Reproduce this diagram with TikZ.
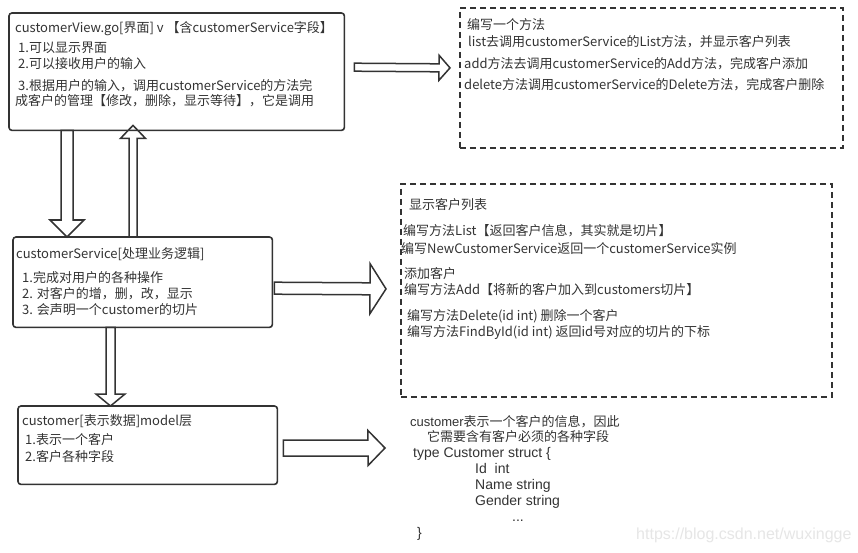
\documentclass[tikz,border=0pt]{standalone}
\usepackage{fontspec}
\setmainfont{Noto Sans CJK SC}
\newfontfamily\latinfont{Liberation Sans}
\usetikzlibrary{calc}
\definecolor{ink}{HTML}{333333}
\definecolor{wm}{HTML}{E6E6E6}
\tikzset{
  boxgeo/.style={inner sep=0pt, anchor=north west},
  boxline/.style={draw=ink, line width=1.6pt, rounded corners=3pt},
  dbox/.style={draw=ink, line width=1.8pt, dash pattern=on 6pt off 4pt, inner sep=0pt, anchor=north west},
  barrow/.style={draw=ink, line width=1.5pt, fill=white, line join=miter},
  txt/.style={anchor=base west, inner sep=0pt, text=ink, font=\fontsize{13}{15}\selectfont},
  code/.style={anchor=base west, inner sep=0pt, text=ink, font=\latinfont\fontsize{14}{16}\selectfont},
}
\newcommand\blockarrow[5]{%
  \coordinate (bah) at ($(#2)!#5!(#1)$);
  \draw[barrow] ($(#1)!#3!90:(#2)$) -- ($(bah)!#3!90:(#2)$) -- ($(bah)!#4!90:(#2)$) -- (#2)
    -- ($(bah)!#4!-90:(#2)$) -- ($(bah)!#3!-90:(#2)$) -- ($(#1)!#3!-90:(#2)$) -- cycle;
}
\begin{document}
\begin{tikzpicture}[x=1pt,y=-1pt]
\useasboundingbox (0,0) rectangle (858,553);
\fill[white] (0,0) rectangle (858,553);

% boxes (geometry; solid outlines drawn after the arrows)
\path (9,13) node[boxgeo, minimum width=335pt, minimum height=117pt] (b1) {};
\path (459,7) node[dbox, minimum width=383pt, minimum height=140pt] (d1) {};
\path (13,237) node[boxgeo, minimum width=259pt, minimum height=90pt] (b2) {};
\path (400,183) node[dbox, minimum width=431pt, minimum height=213pt] (d2) {};
\path (18,406) node[boxgeo, minimum width=259pt, minimum height=78pt] (b3) {};

% connector end points
\coordinate (a1s) at ($(b1.east)+(10,-4.5)$);
\coordinate (a1e) at ($(d1.west)+(-9,-10)$);
\coordinate (a2s) at ($(b1.south west)+(58,0)$);
\coordinate (a2e) at ($(b2.north west)+(54,0)$);
\coordinate (a3s) at ($(b2.north west)+(120,0)$);
\coordinate (a3e) at ($(b1.south west)+(124,-5)$);
\coordinate (a4s) at ($(b2.east)+(2,6)$);
\coordinate (a4e) at ($(d2.west)+(-14,-1.5)$);
\coordinate (a5s) at ($(b2.south west)+(97.5,0)$);
\coordinate (a5e) at ($(b3.north west)+(92.5,0)$);
\coordinate (a6s) at ($(b3.east)+(6,3)$);
\coordinate (a6e) at (385,448);

% block arrows
\blockarrow{a1s}{a1e}{4pt}{12.5pt}{11pt}
\blockarrow{a2s}{a2e}{6pt}{17pt}{17pt}
\blockarrow{a3s}{a3e}{4pt}{12.5pt}{13pt}
\blockarrow{a4s}{a4e}{6pt}{25pt}{16pt}
\blockarrow{a5s}{a5e}{4.5pt}{14.5pt}{12pt}
\blockarrow{a6s}{a6e}{8pt}{17.5pt}{17pt}

% solid box outlines
\draw[boxline] (b1.north west) rectangle (b1.south east);
\draw[boxline] (b2.north west) rectangle (b2.south east);
\draw[boxline] (b3.north west) rectangle (b3.south east);

% box 1 text
\node[txt] (t1a) at (15,33) {customerView.go[界面] v 【含customerService字段】};
\node[txt] (t1b) at (18,53) {1.可以显示界面};
\node[txt] (t1c) at (18,69) {2.可以接收用户的输入};
\node[txt] (t1d) at (18,91) {3.根据用户的输入，调用customerService的方法完};
\node[txt] (t1e) at (15,106) {成客户的管理【修改，删除，显示等待】，它是调用};

% dashed box 1 text
\node[txt] (u1a) at (467,30) {编写一个方法};
\node[txt] (u1b) at (468,47) {list去调用customerService的List方法，并显示客户列表};
\node[txt] (u1c) at (464,69) {add方法去调用customerService的Add方法，完成客户添加};
\node[txt] (u1d) at (464,90) {delete方法调用customerService的Delete方法，完成客户删除};

% box 2 text
\node[txt] (t2a) at (16,258) {customerService[处理业务逻辑]};
\node[txt] (t2b) at (22,282) {1.完成对用户的各种操作};
\node[txt] (t2c) at (22,298) {2. 对客户的增，删，改，显示};
\node[txt] (t2d) at (22,314) {3. 会声明一个customer的切片};

% dashed box 2 text
\node[txt] (u2a) at (409,210) {显示客户列表};
\node[txt] (u2b) at (403,236) {编写方法List【返回客户信息，其实就是切片】};
\node[txt] (u2c) at (401,253) {编写NewCustomerService返回一个customerService实例};
\node[txt] (u2d) at (404,278) {添加客户};
\node[txt] (u2e) at (404,294) {编写方法Add【将新的客户加入到customers切片】};
\node[txt] (u2f) at (407,320) {编写方法Delete(id int) 删除一个客户};
\node[txt] (u2g) at (407,336) {编写方法FindById(id int) 返回id号对应的切片的下标};

% box 3 text
\node[txt] (t3a) at (22,425) {customer[表示数据]model层};
\node[txt] (t3b) at (25,444) {1.表示一个客户};
\node[txt] (t3c) at (25,461) {2.客户各种字段};

% code text
\node[txt] (c1) at (410,426) {{\latinfont customer}表示一个客户的信息，因此};
\node[txt] (c2) at (427,441) {它需要含有客户必须的各种字段};
\node[code] (c3) at (413,457) {type Customer struct \{};
\node[code] (c4) at (475,473) {Id\ \ int};
\node[code] (c5) at (475,489) {Name string};
\node[code] (c6) at (475,505) {Gender string};
\node[code] (c7) at (512,521) {...};
\node[code] (c8) at (417,537) {\}};

% watermark
\node[anchor=base west, inner sep=0pt, text=wm, font=\latinfont\fontsize{16}{18}\selectfont] (wmk) at (636,539) {https://blog.csdn.net/wuxingge};
\end{tikzpicture}
\end{document}
